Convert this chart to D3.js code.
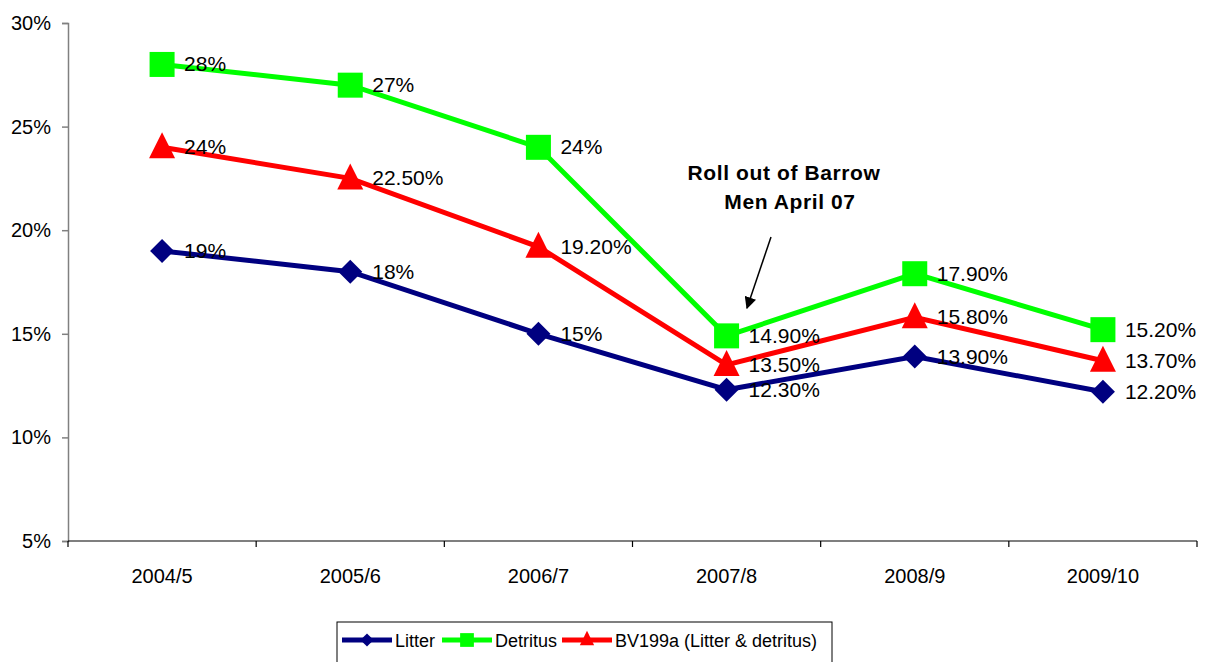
<!DOCTYPE html>
<html>
<head>
<meta charset="utf-8">
<script src="https://cdn.jsdelivr.net/npm/d3@7"></script>
<style>
  body { margin: 0; background: #fff; }
  text { font-family: "Liberation Sans", Arial, sans-serif; }
</style>
</head>
<body>
<div id="chart"></div>
<script>
// data
const years = ["2004/5", "2005/6", "2006/7", "2007/8", "2008/9", "2009/10"];
const litter = [19, 18, 15, 12.3, 13.9, 12.2];
const detritus = [28, 27, 24, 14.9, 17.9, 15.2];
const bv199a = [24, 22.5, 19.2, 13.5, 15.8, 13.7];
const litterLabels = ["19%", "18%", "15%", "12.30%", "13.90%", "12.20%"];
const detritusLabels = ["28%", "27%", "24%", "14.90%", "17.90%", "15.20%"];
const bvLabels = ["24%", "22.50%", "19.20%", "13.50%", "15.80%", "13.70%"];
const yTicks = [5, 10, 15, 20, 25, 30];

const w = 1208, h = 662;
const svg = d3.select("#chart").append("svg")
    .attr("width", w)
    .attr("height", h);

const x = d3.scaleBand().domain(years).range([68, 1197]);
const y = d3.scaleLinear().domain([5, 30]).range([541, 23]);

// y axis
const yAxis = svg.append("g")
    .attr("transform", "translate(68,0)")
    .call(d3.axisLeft(y).tickValues(yTicks).tickFormat(d => d + "%").tickSize(6).tickPadding(11));
yAxis.attr("font-size", null).attr("font-family", null);
yAxis.select(".domain").attr("stroke", "#808080").attr("stroke-width", 1.5);
yAxis.selectAll(".tick line").attr("stroke", "#808080").attr("stroke-width", 1.5);
yAxis.selectAll("text").style("font-size", "20px").attr("fill", "#000");

// x axis
const xAxis = svg.append("g")
    .attr("transform", "translate(0,541)");
xAxis.append("line").attr("x1", 68).attr("x2", 1197).attr("stroke", "#000").attr("stroke-width", 1.2);
const xTickPos = years.map(d => x(d)).concat([x.range()[1]]);
xAxis.selectAll(".xt").data(xTickPos).enter().append("line")
    .attr("x1", d => d).attr("x2", d => d).attr("y1", 0).attr("y2", 6)
    .attr("stroke", "#000").attr("stroke-width", 1.2);
xAxis.selectAll(".xl").data(years).enter().append("text")
    .attr("x", d => x(d) + x.bandwidth() / 2)
    .attr("y", 42)
    .attr("text-anchor", "middle")
    .style("font-size", "20px")
    .text(d => d);

const cx = d => x(d) + x.bandwidth() / 2;

const series = [
  { name: "Litter", vals: litter, labels: litterLabels, color: "#000080", shape: "diamond" },
  { name: "Detritus", vals: detritus, labels: detritusLabels, color: "#00FF00", shape: "square" },
  { name: "BV199a (Litter & detritus)", vals: bv199a, labels: bvLabels, color: "#FF0000", shape: "triangle" }
];

function marker(g, shape, color, px, py, scale) {
  scale = scale || 1;
  if (shape === "square") {
    const s = 25 * scale;
    g.append("rect").attr("x", px - s / 2).attr("y", py - s / 2).attr("width", s).attr("height", s).attr("fill", color);
  } else if (shape === "triangle") {
    const s = 13 * scale;
    g.append("path").attr("d", `M${px},${py - s - 2}L${px + s},${py + s - 2}L${px - s},${py + s - 2}Z`).attr("fill", color);
  } else {
    const s = 12 * scale;
    g.append("path").attr("d", `M${px},${py - s}L${px + s},${py}L${px},${py + s}L${px - s},${py}Z`).attr("fill", color);
  }
}

const line = d3.line().x((d, i) => cx(years[i])).y(d => y(d));

series.forEach(s => {
  svg.append("path")
    .datum(s.vals)
    .attr("d", line)
    .attr("fill", "none")
    .attr("stroke", s.color)
    .attr("stroke-width", 5);
  const g = svg.append("g");
  s.vals.forEach((v, i) => marker(g, s.shape, s.color, cx(years[i]), y(v)));
});

// data labels
series.forEach(s => {
  svg.append("g").selectAll("text").data(s.vals).enter().append("text")
    .attr("x", (d, i) => cx(years[i]) + 22)
    .attr("y", d => y(d) + 7)
    .style("font-size", "21px")
    .attr("fill", "#000")
    .text((d, i) => s.labels[i]);
});

// annotation
const ann = svg.append("text")
    .attr("text-anchor", "middle")
    .style("font-size", "21px")
    .attr("font-weight", "bold")
    .attr("letter-spacing", "0.6");
ann.append("tspan").attr("x", 784).attr("y", 180).text("Roll out of Barrow");
ann.append("tspan").attr("x", 790).attr("y", 209).text("Men April 07");

svg.append("defs").append("marker")
    .attr("id", "arrow")
    .attr("viewBox", "0 0 10 10")
    .attr("refX", 9).attr("refY", 5)
    .attr("markerWidth", 8).attr("markerHeight", 8)
    .attr("orient", "auto")
    .append("path").attr("d", "M0,0L10,5L0,10Z").attr("fill", "#000");
svg.append("line")
    .attr("x1", 771).attr("y1", 237).attr("x2", 747).attr("y2", 308)
    .attr("stroke", "#000").attr("stroke-width", 1.5)
    .attr("marker-end", "url(#arrow)");

// legend
const leg = svg.append("g");
leg.append("rect").attr("x", 337).attr("y", 622).attr("width", 495).attr("height", 60)
    .attr("fill", "#fff").attr("stroke", "#000").attr("stroke-width", 1);
const legX = [342, 442, 562];
series.forEach((s, i) => {
  const lx = legX[i];
  leg.append("line").attr("x1", lx).attr("x2", lx + 50).attr("y1", 640).attr("y2", 640)
    .attr("stroke", s.color).attr("stroke-width", 5);
  marker(leg, s.shape, s.color, lx + 25, 640, 0.55);
  leg.append("text").attr("x", lx + 53).attr("y", 647).style("font-size", "18px").text(s.name);
});
</script>
</body>
</html>
